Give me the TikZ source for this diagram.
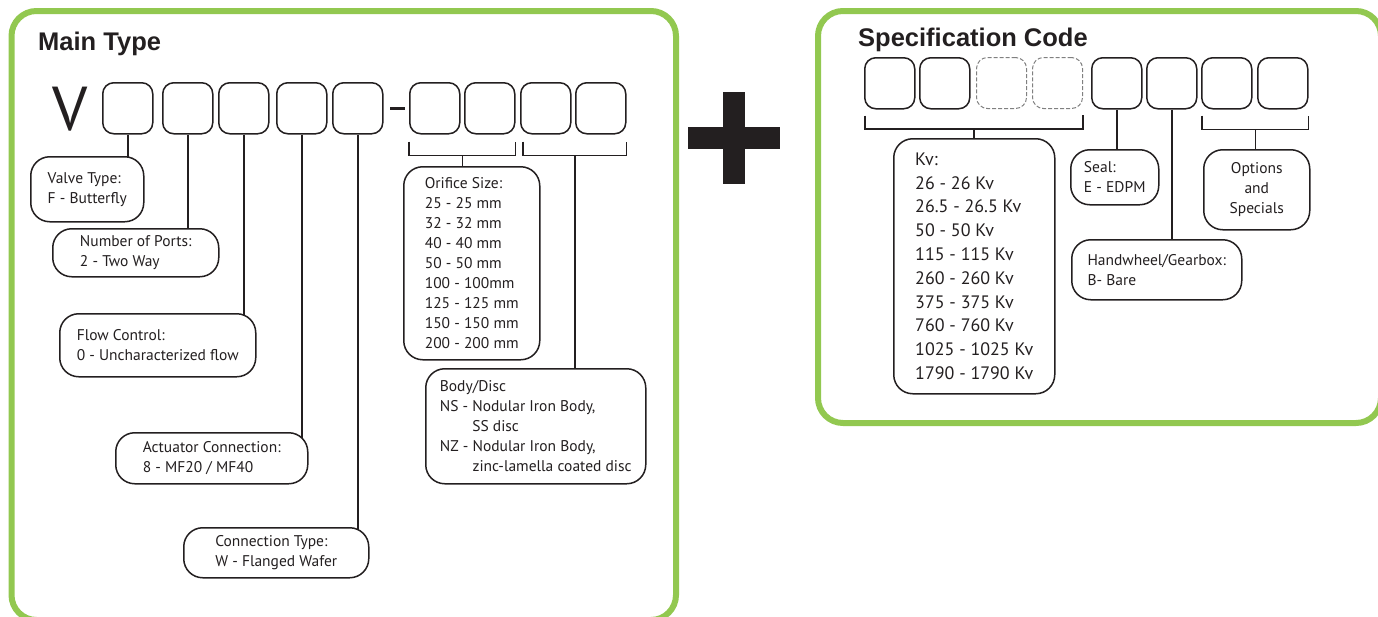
\documentclass[tikz,border=0pt]{standalone}
\usepackage{fontspec}
\setmainfont{PT Sans}
\newfontfamily\headfont{Liberation Sans}
\usetikzlibrary{calc,backgrounds}
\definecolor{panelgreen}{RGB}{146,200,80}
\definecolor{ink}{RGB}{35,31,32}
\begin{document}
\begin{tikzpicture}[x=1pt,y=-1pt,
  panel/.style={draw=panelgreen, line width=6pt, rounded corners=25pt},
  codebox/.style={draw=ink, line width=1.5pt, rounded corners=11pt, minimum width=50pt, minimum height=51pt, inner sep=0pt, fill=white, anchor=north west},
  ghostbox/.style={draw=gray, dashed, dash pattern=on 4pt off 2pt, line width=1pt, rounded corners=11pt, minimum width=50pt, minimum height=51pt, inner sep=0pt, anchor=north west},
  infobox/.style={draw=ink, line width=1.5pt, rounded corners=19pt, fill=white, align=left, inner sep=0pt, anchor=north west, text=ink, font=\fontsize{15.5pt}{20pt}\selectfont},
  kvbox/.style={infobox, font=\fontsize{18pt}{23.8pt}\selectfont},
  link/.style={draw=ink, line width=1.5pt},
  heading/.style={font=\headfont\bfseries\fontsize{25.5pt}{30pt}\selectfont, text=ink, anchor=base west, inner sep=0pt}
]
\useasboundingbox (0,0) rectangle (1378,616);
\begin{scope}
  \clip (0,0) rectangle (1378,616);
  \draw[panel] (11.5,11) rectangle (676,620);
  \draw[panel] (818,11) rectangle (1381,423);
\end{scope}

% plus sign
\fill[ink] (688,127) rectangle (780,149);
\fill[ink] (723,92) rectangle (745,184);

% headings
\node[heading] (maintitle) at (38,50) {Main Type};
\node[heading] (spectitle) at (858,46) {Specification Code};

% main code
\node[anchor=base, inner sep=0pt, text=ink, font=\fontsize{62pt}{62pt}\selectfont] (vletter) at (70,130) {V};
\foreach \n/\x in {b1/102,b2/162,b3/218,b4/276,b5/332,b6/409,b7/464,b8/520,b9/575}
  \node[codebox] (\n) at (\x,82) {};
\draw[ink, line width=3pt] (390,108) -- (405,108);

% spec code
\foreach \n/\x in {s1/864,s2/919,s5/1091,s6/1146,s7/1201,s8/1257}
  \node[codebox] (\n) at (\x,57) {};
\foreach \n/\x in {s3/976,s4/1032}
  \node[ghostbox] (\n) at (\x,57) {};

% info boxes, main type
\node[infobox, minimum width=113pt, minimum height=65pt] (vt) at (30,156) {Valve Type:\\F - Butterfly};
\node[infobox, minimum width=166pt, minimum height=48pt] (np) at (52,228) {Number of Ports:\\2 - Two Way};
\node[infobox, minimum width=196pt, minimum height=63pt] (fc) at (59,313) {Flow Control:\\0 - Uncharacterized flow};
\node[infobox, minimum width=192pt, minimum height=51pt] (ac) at (115,432) {Actuator Connection:\\8 - MF20 / MF40};
\node[infobox, minimum width=185pt, minimum height=50pt] (ct) at (183,527) {Connection Type:\\W - Flanged Wafer};
\node[infobox, minimum width=136pt, minimum height=193pt] (os) at (403,166) {Orifice Size:\\25 - 25 mm\\32 - 32 mm\\40 - 40 mm\\50 - 50 mm\\100 - 100mm\\125 - 125 mm\\150 - 150 mm\\200 - 200 mm};
\node[infobox, minimum width=220pt, minimum height=115pt] (bd) at (425,368) {Body/Disc\\NS - Nodular Iron Body,\\\hphantom{NS - }SS disc\\NZ - Nodular Iron Body,\\\hphantom{NZ - }zinc-lamella coated disc};

% info boxes, spec code
\node[kvbox, minimum width=161pt, minimum height=255pt] (kv) at (893,138) {Kv:\\26 - 26 Kv\\26.5 - 26.5 Kv\\50 - 50 Kv\\115 - 115 Kv\\260 - 260 Kv\\375 - 375 Kv\\760 - 760 Kv\\1025 - 1025 Kv\\1790 - 1790 Kv};
\node[infobox, minimum width=88pt, minimum height=55pt] (seal) at (1070,149) {Seal:\\E - EDPM};
\node[infobox, minimum width=170pt, minimum height=60pt] (hw) at (1071,239) {Handwheel/Gearbox:\\B- Bare};
\node[infobox, align=center, minimum width=106pt, minimum height=80pt] (opt) at (1203,149) {Options\\and\\Specials};

% connectors
\begin{scope}[on background layer]
  \draw[link] (b1.south) -- ($(b1.south |- vt.north)+(0,4)$);
  \draw[link] (b2.south) -- ($(b2.south |- np.north)+(0,4)$);
  \draw[link] (b3.south) -- ($(b3.south |- fc.north)+(0,4)$);
  \draw[link] (b4.south) -- ($(b4.south |- ac.north)+(0,8)$);
  \draw[link] (b5.south) -- ($(b5.south |- ct.north)+(0,4)$);
  % bracket orifice
  \draw[link] ($(b6.south west)+(0,7)$) |- ($(b7.south east)+(0,21)$) -- ($(b7.south east)+(0,7)$);
  \coordinate (m1) at ($(b6.south west)!0.5!(b7.south east)+(0,21)$);
  \draw[link] (m1) -- ($(m1 |- os.north)+(0,4)$);
  % bracket body
  \draw[link] ($(b8.south west)+(3,7)$) |- ($(b9.south east)+(0,21)$) -- ($(b9.south east)+(0,7)$);
  \coordinate (m2) at ($(b8.south west)!0.5!(b9.south east)+(1.5,21)$);
  \draw[link] (m2) -- ($(m2 |- bd.north)+(0,4)$);
  % bracket kv
  \draw[link] ($(s1.south west)+(1,6)$) |- ($(s4.south east)+(0,20)$) -- ($(s4.south east)+(0,6)$);
  \coordinate (m3) at ($(s1.south west)!0.5!(s4.south east)+(0.5,20)$);
  \draw[link] (m3) -- ($(m3 |- kv.north)+(0,4)$);
  \draw[link] (s5.south) -- ($(s5.south |- seal.north)+(0,4)$);
  \draw[link] (s6.south) -- ($(s6.south |- hw.north)+(0,4)$);
  % bracket options
  \draw[link] ($(s7.south west)+(1,6)$) |- ($(s8.south east)+(0,20)$) -- ($(s8.south east)+(0,6)$);
  \coordinate (m4) at ($(s7.south west)!0.5!(s8.south east)+(0.5,20)$);
  \draw[link] (m4) -- ($(m4 |- opt.north)+(0,4)$);
\end{scope}
\end{tikzpicture}
\end{document}
